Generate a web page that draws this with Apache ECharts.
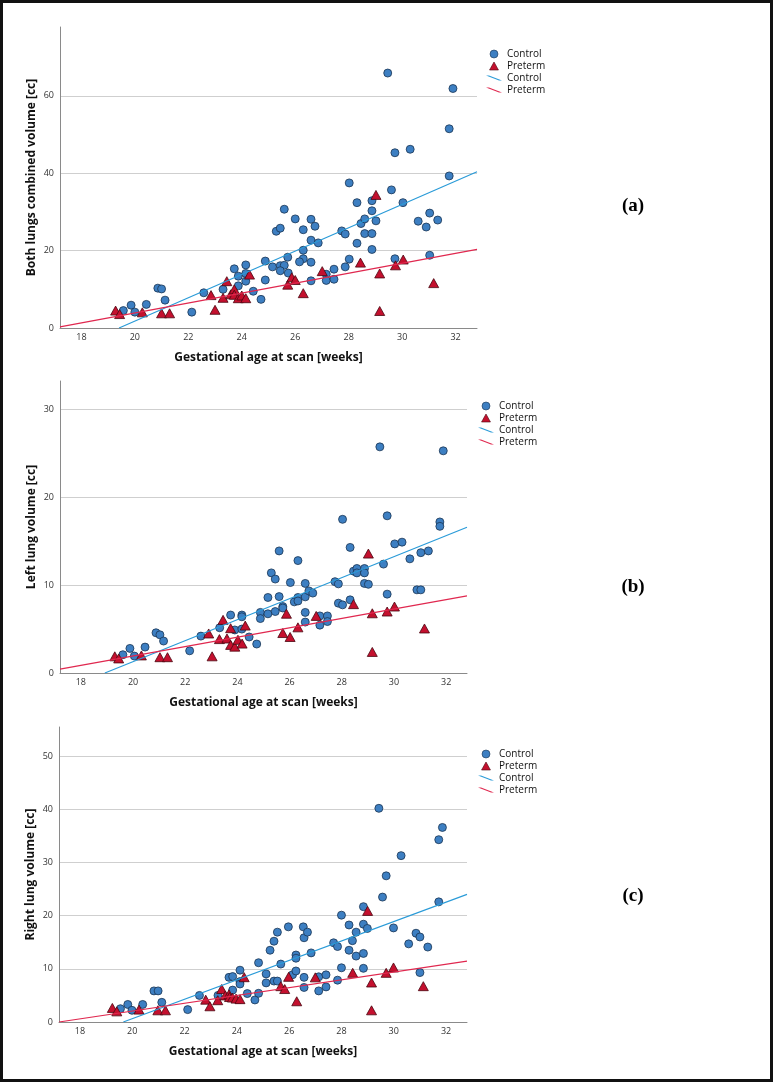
<!DOCTYPE html>
<html>
<head>
<meta charset="utf-8">
<script src="https://cdn.jsdelivr.net/npm/echarts@6/dist/echarts.min.js"></script>
<style>
html,body{margin:0;padding:0;background:#fff;}
#frame{position:absolute;left:0;top:0;width:773px;height:1082px;box-sizing:border-box;border:3px solid #111;}
#chart{position:absolute;left:0;top:0;width:773px;height:1082px;}
</style>
</head>
<body>
<div id="chart"></div>
<div id="frame"></div>
<script>
// ---------- tick labels ----------
const xTicks = [18, 20, 22, 24, 26, 28, 30, 32];
const yTicksA = [0, 20, 40, 60];
const yTicksB = [0, 10, 20, 30];
const yTicksC = [0, 10, 20, 30, 40, 50];
const xRange = [17.2, 32.8];
const yMaxA = 77.8, yMaxB = 33.25, yMaxC = 55.5;

// ---------- panel (a): both lungs combined volume ----------
const controlA = [[19.57,4.5],[19.86,5.9],[20.0,4.1],[20.43,6.1],[20.86,10.3],[21.0,10.1],[21.13,7.2],[22.13,4.1],[22.58,9.1],[23.3,10.0],[23.72,15.3],[23.87,13.4],[23.87,10.9],[24.15,16.3],[24.15,14.1],[24.15,12.1],[24.43,9.5],[24.72,7.4],[24.88,17.3],[24.88,12.4],[25.15,15.8],[25.29,25.0],[25.44,25.8],[25.59,30.7],[25.44,16.1],[25.59,16.2],[25.44,14.8],[25.72,18.3],[25.74,14.2],[26.0,28.2],[26.3,25.4],[26.59,28.1],[26.74,26.3],[26.59,22.7],[26.86,22.0],[26.3,20.1],[26.3,17.9],[26.16,17.1],[26.59,17.0],[26.59,12.2],[27.16,13.9],[27.16,12.3],[27.45,15.2],[27.45,12.6],[27.74,25.1],[27.87,24.3],[28.02,37.5],[27.87,15.8],[28.02,17.8],[28.31,32.4],[28.31,21.9],[28.46,27.0],[28.6,28.2],[28.6,24.4],[28.87,32.9],[28.87,30.3],[29.02,27.7],[28.87,24.4],[28.87,20.3],[29.46,65.9],[29.6,35.7],[29.73,45.3],[29.73,17.9],[30.03,32.4],[30.3,46.2],[30.6,27.6],[30.9,26.1],[31.03,29.7],[31.03,18.8],[31.33,27.9],[31.76,51.5],[31.76,39.3],[31.9,61.9]];
const pretermA = [[19.28,4.5],[19.43,3.6],[20.28,4.05],[21.0,3.8],[21.3,3.8],[22.85,8.5],[23.0,4.7],[23.3,7.8],[23.44,12.1],[23.59,8.7],[23.72,10.0],[23.72,8.6],[23.87,7.7],[24.0,8.4],[24.15,7.7],[24.29,13.8],[25.72,11.2],[25.87,13.1],[26.0,12.4],[26.3,9.0],[27.01,14.7],[28.44,16.9],[29.02,34.4],[29.16,14.1],[29.16,4.4],[29.75,16.2],[30.04,17.7],[31.18,11.6]];
const fitControlA = [[19.41,0],[32.8,40.4]];
const fitPretermA = [[17.2,0.27],[32.8,20.3]];

// ---------- panel (b): left lung volume ----------
const controlB = [[19.61,2.08],[19.88,2.8],[20.05,1.93],[20.46,2.95],[20.88,4.58],[21.03,4.35],[21.17,3.64],[22.17,2.53],[22.6,4.2],[23.32,5.15],[23.74,6.6],[23.9,4.9],[24.17,6.6],[24.17,6.4],[24.17,5.0],[24.45,4.1],[24.74,3.3],[24.88,6.9],[24.88,6.2],[25.17,8.6],[25.17,6.74],[25.3,11.4],[25.45,10.7],[25.6,13.9],[25.45,7.0],[25.6,8.7],[25.74,7.57],[25.74,7.4],[26.03,10.3],[26.18,8.1],[26.32,12.8],[26.32,8.6],[26.32,8.2],[26.6,10.2],[26.6,8.67],[26.6,6.9],[26.6,5.8],[26.74,9.35],[26.89,9.1],[27.16,6.5],[27.16,5.45],[27.45,6.5],[27.45,5.86],[27.74,10.4],[27.87,10.15],[27.87,7.95],[28.03,7.76],[28.03,17.5],[28.32,14.3],[28.32,8.33],[28.45,11.6],[28.58,11.9],[28.58,11.4],[28.87,11.9],[28.87,11.4],[28.87,10.2],[29.02,10.1],[29.46,25.75],[29.6,12.4],[29.74,17.9],[29.74,8.98],[30.03,14.7],[30.31,14.9],[30.61,13.0],[30.88,9.47],[31.03,9.47],[31.03,13.7],[31.32,13.9],[31.76,17.2],[31.76,16.7],[31.89,25.3]];
const pretermB = [[19.3,1.9],[19.45,1.66],[20.32,2.0],[21.03,1.8],[21.32,1.8],[22.9,4.5],[23.03,1.9],[23.31,3.86],[23.45,6.05],[23.6,3.93],[23.74,5.1],[23.74,3.2],[23.9,3.0],[24.02,3.78],[24.18,3.35],[24.3,5.4],[25.74,4.55],[25.88,6.75],[26.02,4.1],[26.32,5.2],[27.02,6.5],[28.45,7.84],[29.02,13.6],[29.17,6.8],[29.17,2.4],[29.74,7.0],[30.02,7.57],[31.17,5.07]];
const fitControlB = [[18.92,0],[32.8,16.6]];
const fitPretermB = [[17.2,0.45],[32.8,8.78]];

// ---------- panel (c): right lung volume ----------
const controlC = [[19.55,2.5],[19.83,3.3],[19.99,2.2],[20.4,3.3],[20.83,5.85],[20.99,5.85],[21.13,3.7],[22.12,2.33],[22.57,5.0],[23.28,5.0],[23.7,8.4],[23.84,8.55],[23.84,6.0],[24.12,9.75],[24.12,7.6],[24.12,7.15],[24.4,5.35],[24.69,4.15],[24.83,11.15],[24.83,5.4],[25.12,9.05],[25.12,7.36],[25.27,13.5],[25.42,15.2],[25.55,16.9],[25.42,7.7],[25.55,7.7],[25.68,10.9],[25.97,17.9],[26.13,8.9],[26.26,12.6],[26.26,12.0],[26.26,9.6],[26.54,17.9],[26.57,15.85],[26.7,16.9],[26.57,8.4],[26.57,6.5],[26.84,13.0],[27.13,8.5],[27.13,5.85],[27.41,8.87],[27.41,6.6],[27.7,14.9],[27.85,14.2],[27.85,7.87],[28.0,20.1],[28.0,10.2],[28.29,18.25],[28.29,13.5],[28.42,15.3],[28.56,16.9],[28.56,12.4],[28.84,21.7],[28.84,18.4],[28.84,12.9],[28.84,10.1],[28.99,17.6],[29.43,40.2],[29.57,23.5],[29.71,27.5],[29.99,17.7],[30.28,31.3],[30.57,14.7],[30.85,16.7],[31.0,16.0],[31.0,9.3],[31.3,14.1],[31.72,34.3],[31.86,36.6],[31.72,22.6]];
const pretermC = [[19.24,2.65],[19.41,2.0],[20.26,2.33],[20.98,2.2],[21.27,2.2],[22.81,4.2],[22.97,2.96],[23.27,4.1],[23.42,6.2],[23.56,5.0],[23.7,5.2],[23.72,4.7],[23.83,4.6],[23.97,4.4],[24.12,4.3],[24.28,8.43],[25.68,6.74],[25.83,6.2],[25.98,8.5],[26.29,3.9],[27.0,8.4],[28.43,9.25],[29.0,20.9],[29.15,7.43],[29.15,2.2],[29.71,9.25],[29.99,10.26],[31.13,6.74]];
const fitControlC = [[19.66,0],[32.8,24.0]];
const fitPretermC = [[17.2,0],[32.8,11.45]];

// ---------- text ----------
const xTitle = 'Gestational age at scan [weeks]';
const yTitles = ['Both lungs combined volume [cc]', 'Left lung volume [cc]', 'Right lung volume [cc]'];
const panelLabels = ['(a)', '(b)', '(c)'];
const legendNames = ['Control', 'Preterm', 'Control ', 'Preterm '];

// ---------- styling ----------
const FONT = 'Open Sans';
const C_FILL = '#3d7fc2', C_EDGE = '#1b3553';
const P_FILL = '#c4102e', P_EDGE = '#4a0610';
const C_LINE = '#2a9bd8', P_LINE = '#e0284f';
const LINE_ICON = 'path://M0,0 L3,0 L16,5 L13,5 Z';
const TRI_ICON = 'path://M5,0 L10,9 L0,9 Z';

const grids = [
  {left: 60, top: 27, width: 417, height: 301},
  {left: 60, top: 381, width: 407, height: 292},
  {left: 59, top: 727, width: 408, height: 295}
];
const yMaxes = [yMaxA, yMaxB, yMaxC];
const yTickSets = [yTicksA, yTicksB, yTicksC];
const controls = [controlA, controlB, controlC];
const preterms = [pretermA, pretermB, pretermC];
const fitsC = [fitControlA, fitControlB, fitControlC];
const fitsP = [fitPretermA, fitPretermB, fitPretermC];
const legendPos = [{left: 486, top: 49}, {left: 478, top: 401}, {left: 478, top: 749}];
const labelPos = [{x: 633, y: 206}, {x: 633, y: 587}, {x: 633, y: 896}];

const xAxes = [], yAxes = [], series = [], legends = [], graphics = [];
for (let i = 0; i < 3; i++) {
  xAxes.push({
    gridIndex: i, type: 'value', min: xRange[0], max: xRange[1],
    name: xTitle, nameLocation: 'middle', nameGap: 24,
    nameTextStyle: {fontFamily: FONT, fontSize: 12, fontWeight: 'bold', color: '#111'},
    axisLine: {show: true, lineStyle: {color: '#8a8a8a', width: 1}},
    axisTick: {show: false, customValues: xTicks},
    axisLabel: {customValues: xTicks, margin: 5, fontFamily: FONT, fontSize: 9, color: '#333'},
    splitLine: {show: false}
  });
  yAxes.push({
    gridIndex: i, type: 'value', min: 0, max: yMaxes[i],
    name: yTitles[i], nameLocation: 'middle', nameGap: 22, nameRotate: 90,
    nameMoveOverlap: false,
    nameTextStyle: {fontFamily: FONT, fontSize: 12, fontWeight: 'bold', color: '#111'},
    axisLine: {show: true, lineStyle: {color: '#8a8a8a', width: 1}},
    axisTick: {show: false, customValues: yTickSets[i]},
    axisLabel: {customValues: yTickSets[i], margin: 6, fontFamily: FONT, fontSize: 9, color: '#333'},
    splitLine: {show: true, lineStyle: {color: '#cfcfcf', width: 1}}
  });
  series.push({
    name: legendNames[0], type: 'scatter', xAxisIndex: i, yAxisIndex: i,
    data: controls[i], symbol: 'circle', symbolSize: 8, z: 2,
    itemStyle: {color: C_FILL, borderColor: C_EDGE, borderWidth: 0.8, opacity: 1}
  });
  series.push({
    name: legendNames[1], type: 'scatter', xAxisIndex: i, yAxisIndex: i,
    data: preterms[i], symbol: 'triangle', symbolSize: [10, 9], z: 3,
    itemStyle: {color: P_FILL, borderColor: P_EDGE, borderWidth: 0.8, opacity: 1}
  });
  series.push({
    name: legendNames[2], type: 'line', xAxisIndex: i, yAxisIndex: i,
    data: fitsC[i], symbol: 'none', z: 4, silent: true,
    lineStyle: {color: C_LINE, width: 1.2}, itemStyle: {color: C_LINE}
  });
  series.push({
    name: legendNames[3], type: 'line', xAxisIndex: i, yAxisIndex: i,
    data: fitsP[i], symbol: 'none', z: 4, silent: true,
    lineStyle: {color: P_LINE, width: 1.2}, itemStyle: {color: P_LINE}
  });
  legends.push({
    orient: 'vertical', left: legendPos[i].left, top: legendPos[i].top,
    itemWidth: 16, itemHeight: 8, itemGap: 2, padding: 0,
    selectedMode: false, symbolKeepAspect: true,
    textStyle: {fontFamily: FONT, fontSize: 10, lineHeight: 10, color: '#111'},
    data: [
      {name: legendNames[0], icon: 'circle', itemStyle: {borderWidth: 0.6}},
      {name: legendNames[1], icon: TRI_ICON, itemStyle: {borderWidth: 0.6}},
      {name: legendNames[2], icon: LINE_ICON, itemStyle: {borderWidth: 0}},
      {name: legendNames[3], icon: LINE_ICON, itemStyle: {borderWidth: 0}}
    ]
  });
  graphics.push({
    type: 'text', x: labelPos[i].x, y: labelPos[i].y,
    style: {text: panelLabels[i], font: 'bold 19px "Liberation Serif"', fill: '#000',
            align: 'center', verticalAlign: 'middle'}
  });
}

const chart = echarts.init(document.getElementById('chart'), null, {renderer: 'canvas'});
chart.setOption({
  animation: false,
  backgroundColor: '#fff',
  grid: grids,
  xAxis: xAxes,
  yAxis: yAxes,
  legend: legends,
  series: series,
  graphic: graphics
});
</script>
</body>
</html>
